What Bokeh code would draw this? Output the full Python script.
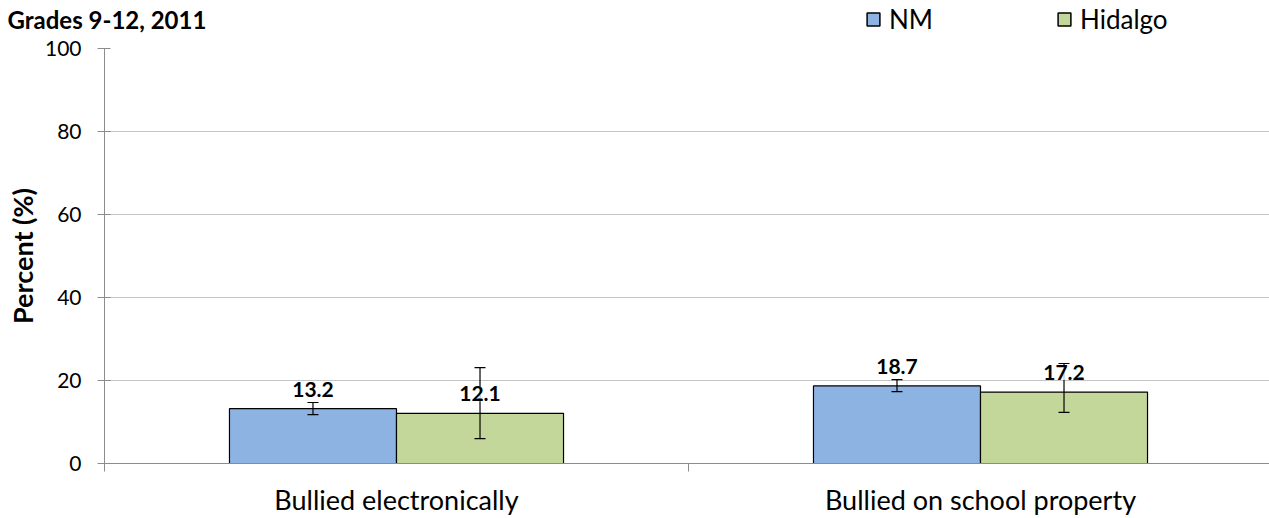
from bokeh.plotting import figure
from bokeh.layouts import column
from bokeh.models import (ColumnDataSource, FixedTicker, Whisker, TeeHead, LabelSet,
                          Legend, LegendItem, Label)
from bokeh.core.properties import value
from bokeh.embed import file_html
from bokeh.resources import INLINE

# ---- data ----
categories = ["Bullied electronically", "Bullied on school property"]
series_names = ["NM", "Hidalgo"]
nm_values = [13.2, 18.7]
nm_lower = [11.8, 17.3]
nm_upper = [14.7, 20.2]
hidalgo_values = [12.1, 17.2]
hidalgo_lower = [6.0, 12.3]
hidalgo_upper = [23.1, 24.1]
y_ticks = [0, 20, 40, 60, 80, 100]
title_text = "Grades 9-12, 2011"
y_label = "Percent (%)"

FONT = "Lato"
BLUE = "#8DB3E2"
GREEN = "#C4D79B"

TOTAL_W, TOTAL_H = 1269, 518
TOP_H = 35
W, H = TOTAL_W, TOTAL_H - TOP_H
BL, BR, BT, BB = 104, 0, 13, 55
frame_w = W - BL - BR
cat_px = 584.0
x_end = frame_w / cat_px
bar_w = 0.286

centers = [i + 0.5 for i in range(len(categories))]
nm_x = [c - bar_w / 2 for c in centers]
hd_x = [c + bar_w / 2 for c in centers]

src_nm = ColumnDataSource(dict(x=nm_x, top=nm_values, lower=nm_lower, upper=nm_upper,
                               lbl=[f"{v:.1f}" for v in nm_values]))
src_hd = ColumnDataSource(dict(x=hd_x, top=hidalgo_values, lower=hidalgo_lower, upper=hidalgo_upper,
                               lbl=[f"{v:.1f}" for v in hidalgo_values]))

# ---- header strip: title + legend ----
top = figure(width=TOTAL_W, height=TOP_H, x_range=(0, 1), y_range=(0, 1),
             output_backend="svg", toolbar_location=None,
             x_axis_type=None, y_axis_type=None, min_border=0, frame_align=False)
top.outline_line_color = None
top.xgrid.visible = False
top.ygrid.visible = False
# legend swatches only: a single undrawn (NaN) bar per series
key_src = ColumnDataSource(dict(x=[float("nan")], top=[float("nan")], bottom=[float("nan")]))
d_nm = top.vbar(x="x", top="top", bottom="bottom", width=0.1, source=key_src,
                fill_color=BLUE, line_color="black", line_width=1.5)
d_hd = top.vbar(x="x", top="top", bottom="bottom", width=0.1, source=key_src,
                fill_color=GREEN, line_color="black", line_width=1.5)
top.add_layout(Label(x=7, y=TOP_H - 18.5, x_units="screen", y_units="screen",
                     text=title_text, text_font=FONT, text_font_size="24px",
                     text_font_style="bold", text_baseline="middle",
                     text_align="left", text_color="black"))
legend = Legend(items=[LegendItem(label=series_names[0], renderers=[d_nm]),
                       LegendItem(label=series_names[1], renderers=[d_hd])],
                orientation="horizontal", location=(865, 0),
                glyph_width=16, glyph_height=16, label_standoff=8, label_width=160,
                spacing=7, padding=0, margin=0, border_line_color=None,
                background_fill_alpha=0, label_text_font=FONT,
                label_text_font_size="26px", label_text_color="black")
top.add_layout(legend)

# ---- main chart ----
p = figure(width=W, height=H, x_range=(0, x_end), y_range=(0, 100),
           output_backend="svg", toolbar_location=None, frame_align=False,
           min_border_left=BL, min_border_right=BR, min_border_top=BT, min_border_bottom=BB)
p.outline_line_color = None
p.background_fill_color = "white"

r_nm = p.vbar(x="x", top="top", width=bar_w, bottom=0, source=src_nm,
              fill_color=BLUE, line_color="black", line_width=1.2)
r_hd = p.vbar(x="x", top="top", width=bar_w, bottom=0, source=src_hd,
              fill_color=GREEN, line_color="black", line_width=1.2)

for src in (src_nm, src_hd):
    wk = Whisker(source=src, base="x", upper="upper", lower="lower",
                 line_color="black", line_width=1.2, level="annotation",
                 upper_head=TeeHead(size=11, line_color="black", line_width=1.2),
                 lower_head=TeeHead(size=11, line_color="black", line_width=1.2))
    p.add_layout(wk)

for src in (src_nm, src_hd):
    ls = LabelSet(source=src, x="x", y="top", text="lbl", text_align="center",
                  text_baseline="bottom", y_offset=12, text_font=value(FONT),
                  text_font_size="21px", text_font_style="bold", text_color="black",
                  background_fill_color="white", background_fill_alpha=0.75)
    p.add_layout(ls)

# y axis
p.yaxis.ticker = FixedTicker(ticks=y_ticks)
p.yaxis.axis_line_color = "#8c8c8c"
p.yaxis.major_tick_line_color = "#8c8c8c"
p.yaxis.major_tick_in = 6
p.yaxis.major_tick_out = 7
p.yaxis.minor_tick_line_color = None
p.yaxis.major_label_text_font = FONT
p.yaxis.major_label_text_font_size = "21px"
p.yaxis.major_label_text_color = "black"
p.yaxis.major_label_standoff = 16
p.yaxis.axis_label = y_label
p.yaxis.axis_label_text_font = FONT
p.yaxis.axis_label_text_font_size = "27px"
p.yaxis.axis_label_text_font_style = "bold"
p.yaxis.axis_label_text_color = "black"
p.yaxis.axis_label_standoff = 3

# x axis
p.xaxis.ticker = FixedTicker(ticks=centers, minor_ticks=[0, 1, 2])
p.xaxis.major_label_overrides = {c: n for c, n in zip(centers, categories)}
p.xaxis.major_tick_line_color = None
p.xaxis.major_tick_in = 0
p.xaxis.major_tick_out = 8
p.xaxis.minor_tick_line_color = "#8c8c8c"
p.xaxis.minor_tick_in = 0
p.xaxis.minor_tick_out = 8
p.xaxis.axis_line_color = "#8c8c8c"
p.xaxis.major_label_text_font = FONT
p.xaxis.major_label_text_font_size = "27px"
p.xaxis.major_label_text_color = "black"
p.xaxis.major_label_standoff = 11

p.xgrid.visible = False
p.ygrid.ticker = FixedTicker(ticks=y_ticks)
p.ygrid.grid_line_color = "#c4c4c4"

layout = column(top, p, spacing=0)
open("out.html", "w").write(file_html(layout, INLINE))
